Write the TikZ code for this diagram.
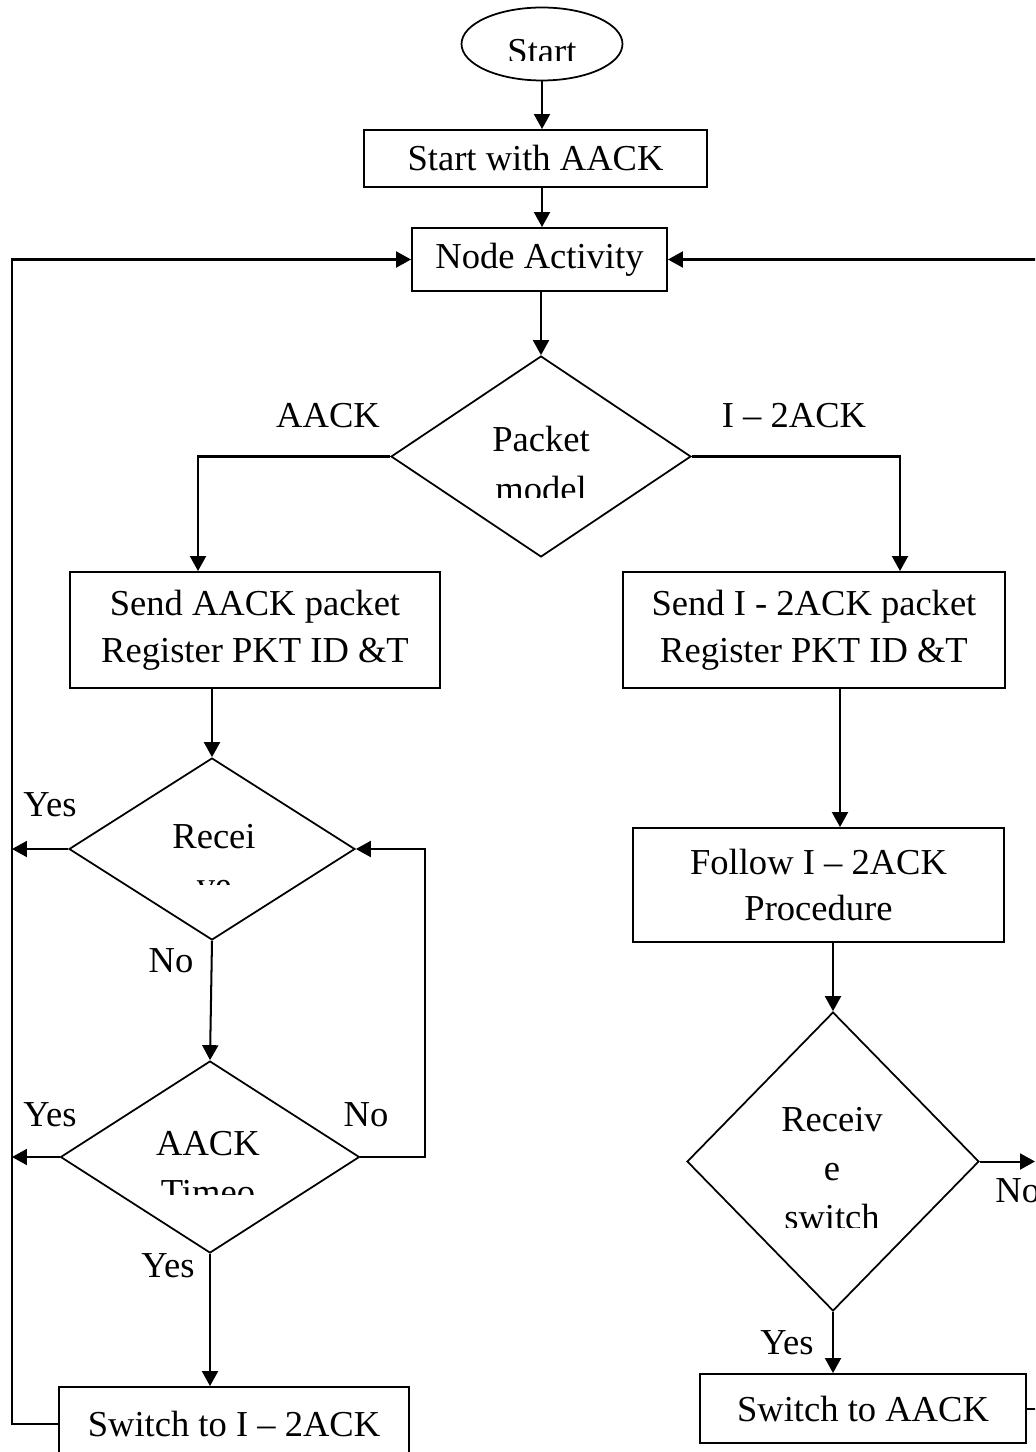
\documentclass[tikz,border=0pt]{standalone}
\usepackage{fontspec}
\setmainfont{Liberation Serif}
\usetikzlibrary{arrows.meta,shapes.geometric}

\begin{document}
\begin{tikzpicture}[x=0.02cm,y=-0.02cm,
  every node/.style={font=\fontsize{20.8}{26.7}\selectfont},
  box/.style={draw,line width=1.1pt,rectangle,inner sep=0pt,align=center},
  dec/.style={draw,line width=1pt,diamond,inner sep=0pt},
  flow/.style={line width=1.15pt,-{Triangle[length=0.3cm,width=0.32cm]}},
  lbl/.style={anchor=base,inner sep=0pt}]

\useasboundingbox (0,0) rectangle (1035,1452);
\clip (0,0) rectangle (1035,1452);

% ---- shapes ----
\node[draw,ellipse,line width=1pt,minimum width=3.22cm,minimum height=1.46cm,inner sep=0pt] (start) at (542,44) {};
\node[box,minimum width=6.86cm,minimum height=1.14cm] (swa) at (535.5,158.5) {Start with AACK};
\node[box,minimum width=5.1cm,minimum height=1.26cm] (na) at (539.5,259.5) {Node Activity};
\node[dec,minimum width=6cm,minimum height=4.02cm] (pm) at (541,456.5) {};
\node[box,minimum width=7.4cm,minimum height=2.32cm] (saa) at (255,630) {Send AACK packet\\Register PKT ID \&T};
\node[box,minimum width=7.64cm,minimum height=2.32cm] (si2) at (814,630) {Send I - 2ACK packet\\Register PKT ID \&T};
\node[dec,minimum width=5.72cm,minimum height=3.64cm] (rcv) at (212,849) {};
\node[dec,minimum width=5.98cm,minimum height=3.84cm] (tmo) at (210,1157) {};
\node[box,minimum width=7.0cm,minimum height=1.46cm] (sw1) at (234,1423.5) {Switch to I – 2ACK};
\node[box,minimum width=7.42cm,minimum height=2.28cm] (fol) at (818.5,885) {Follow I – 2ACK\\Procedure};
\node[dec,minimum width=5.84cm,minimum height=5.98cm] (rs) at (833,1161.5) {};
\node[box,minimum width=6.52cm,minimum height=1.38cm] (sw2) at (863,1408.5) {Switch to AACK};

% ---- texts cut off at the bottom of their shapes ----
\begin{scope}
  \clip (440,0) rectangle (640,60.5);
  \node[lbl] (starttxt) at (542,63.5) {Start};
\end{scope}
\begin{scope}
  \clip (400,380) rectangle (680,497);
  \node[lbl] (pm1) at (541,452) {Packet};
  \node[lbl] (pm2) at (541,501) {model};
\end{scope}
\begin{scope}
  \clip (90,780) rectangle (340,884);
  \node[lbl] (rcv1) at (214,848) {Recei};
  \node[lbl] (rcv2) at (214,897) {ve};
\end{scope}
\begin{scope}
  \clip (90,1080) rectangle (340,1194);
  \node[lbl] (tmo1) at (208,1155) {AACK};
  \node[lbl] (tmo2) at (208,1204) {Timeo};
\end{scope}
\begin{scope}
  \clip (700,1040) rectangle (960,1227);
  \node[lbl] (rs1) at (832,1131) {Receiv};
  \node[lbl] (rs2) at (832,1180) {e};
  \node[lbl] (rs3) at (832,1229) {switch};
\end{scope}

% ---- branch labels ----
\node[lbl] (labA) at (328,428) {AACK};
\node[lbl] (labI) at (794,428) {I – 2ACK};
\node[lbl] (y1) at (50,816) {Yes};
\node[lbl] (n1) at (171,972) {No};
\node[lbl] (y2) at (50,1126) {Yes};
\node[lbl] (n2) at (366,1126) {No};
\node[lbl] (y3) at (168,1277) {Yes};
\node[lbl] (y4) at (787,1354) {Yes};
\node[lbl,anchor=base west] (n3) at (995,1202) {No};

% ---- rail and bend coordinates ----
\coordinate (lx) at (12,262);
\coordinate (lft) at (198,458);
\coordinate (rgt) at (900,460);
\coordinate (rx) at (425,1000);
\coordinate (fx) at (840,700);
\coordinate (edge) at (1035,0);
\coordinate (ex) at (1040,262);

% ---- connectors ----
\draw[flow] (start.south) -- (start.south |- swa.north);
\draw[flow] (start.south |- swa.south) -- (start.south |- na.north);
\draw[flow] (na.south -| pm.north) -- (pm.north);
\draw[flow] (pm.west) -| (lft |- saa.north);
\draw[flow] (pm.east) -| (rgt |- si2.north);
\draw[flow] (saa.south -| rcv.north) -- (rcv.north);
\draw[flow] (rcv.west) -- (rcv.west -| lx);
\draw[flow] (rcv.south) -- (tmo.north);
\draw[flow] (tmo.west) -- (tmo.west -| lx);
\draw[flow] (tmo.east) -- (tmo.east -| rx) -- (rcv.east -| rx) -- (rcv.east);
\draw[flow] (tmo.south) -- (tmo.south |- sw1.north);
\draw[flow] (sw1.west) -- (sw1.west -| lx) -- (lx |- na.west) -- (na.west);
\draw[flow] (si2.south -| fx) -- (fx |- fol.north);
\draw[flow] (fol.south -| rs.north) -- (rs.north);
\draw[flow] (rs.east) -- (rs.east -| edge);
\draw[flow] (rs.south) -- (rs.south |- sw2.north);
\draw[flow] (sw2.east) -- (sw2.east -| ex) -- (ex |- na.east) -- (na.east);

\end{tikzpicture}
\end{document}
